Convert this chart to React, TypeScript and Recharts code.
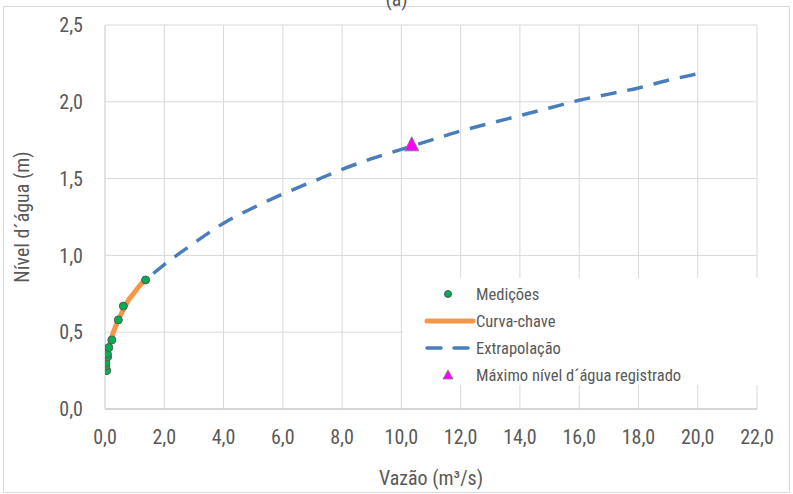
import React from 'react';
import {
    ComposedChart,
    Line,
    Scatter,
    XAxis,
    YAxis,
    CartesianGrid,
    Legend,
    Label
} from 'recharts';

// measured points (discharge m3/s, stage m)
const medicoesQ = [0.06, 0.03, 0.03, 0.09, 0.08, 0.13, 0.23, 0.45, 0.62, 1.37];
const medicoesH = [0.25, 0.28, 0.30, 0.34, 0.36, 0.40, 0.45, 0.58, 0.67, 0.84];

// rating curve within the measured range
const curvaQ = [0.01, 0.05, 0.1, 0.2, 0.4, 0.6, 0.8, 1.0, 1.2, 1.37];
const curvaH = [0.26, 0.33, 0.38, 0.45, 0.56, 0.64, 0.71, 0.76, 0.81, 0.84];

// extrapolated part of the curve
const extrapQ = [1.37, 2, 3, 4, 5, 6, 7, 8, 9, 10, 11, 12, 13, 14, 15, 16, 17, 18, 19, 20.2];
const extrapH = [0.84, 0.94, 1.08, 1.21, 1.31, 1.40, 1.48, 1.56, 1.63, 1.69, 1.75, 1.81, 1.86, 1.91, 1.96, 2.01, 2.05, 2.09, 2.14, 2.19];

// highest recorded stage
const maximoQ = [10.35];
const maximoH = [1.72];

const xTicks = [0, 2, 4, 6, 8, 10, 12, 14, 16, 18, 20, 22];
const yTicks = [0, 0.5, 1, 1.5, 2, 2.5];

const toRows = (qs: number[], hs: number[]) => qs.map((q, i) => ({ q, h: hs[i] }));

const medicoes = toRows(medicoesQ, medicoesH);
const curva = toRows(curvaQ, curvaH);
const extrap = toRows(extrapQ, extrapH);
const maximo = toRows(maximoQ, maximoH);

const FONT = '"Liberation Sans Narrow", "Roboto Condensed", Roboto, sans-serif';
const TEXT = '#595959';
const GRID = '#d9d9d9';

const fmt = (v: number) => v.toFixed(1).replace('.', ',');

const Triangle = (props: any) => {
    const { cx, cy } = props;
    const s = 7;
    return (
        <polygon
            points={`${cx},${cy - s - 1} ${cx - s},${cy + s - 1} ${cx + s},${cy + s - 1}`}
            fill="#ff00ff"
            stroke="#7f7f7f"
            strokeWidth={1}
        />
    );
};

const Dot = (props: any) => {
    const { cx, cy } = props;
    return <circle cx={cx} cy={cy} r={4} fill="#00b050" stroke="#595959" strokeWidth={1} />;
};

const legendItems = [
    { name: 'Medições', kind: 'dot' },
    { name: 'Curva-chave', kind: 'line' },
    { name: 'Extrapolação', kind: 'dash' },
    { name: 'Máximo nível d´água registrado', kind: 'tri' },
];

const renderLegend = () => (
    <div style={{ background: '#fff', width: 355, height: 107, fontFamily: FONT, color: TEXT, fontSize: 16 }}>
        <svg width={355} height={107} style={{ display: 'block' }}>
            {legendItems.map((it, i) => {
                const y = 16 + i * 27;
                return (
                    <g key={it.name}>
                        {it.kind === 'dot' && <circle cx={45} cy={y} r={3.5} fill="#00b050" stroke="#595959" strokeWidth={1} />}
                        {it.kind === 'line' && <line x1={24} x2={70} y1={y} y2={y} stroke="#f79646" strokeWidth={5} strokeLinecap="round" />}
                        {it.kind === 'dash' && <line x1={24} x2={67} y1={y} y2={y} stroke="#4a7ebb" strokeWidth={3.5} strokeDasharray="14 13" strokeLinecap="round" />}
                        {it.kind === 'tri' && <polygon points={`45,${y - 5} 40,${y + 4} 50,${y + 4}`} fill="#ff00ff" stroke="#7f7f7f" strokeWidth={0.8} />}
                        <text x={73} y={y} dy="0.35em" fill={TEXT} fontSize={16.5} fontFamily={FONT}>{it.name}</text>
                    </g>
                );
            })}
        </svg>
    </div>
);

export default function App() {
    return (
        <div style={{ position: 'relative', width: 793, height: 494, background: '#fff', overflow: 'hidden' }}>
            <style>{'body{margin:0}'}</style>
            <div style={{ position: 'absolute', left: 3, top: 6, width: 785, height: 485, border: '1px solid #d9d9d9' }} />
            <div style={{ position: 'absolute', left: 0, top: -13, width: 793, textAlign: 'center', fontFamily: FONT, fontSize: 20, color: TEXT }}>(a)</div>
            <ComposedChart
                width={793}
                height={494}
                margin={{ top: 25, right: 36, left: 0, bottom: 0 }}
                style={{ position: 'absolute', left: 0, top: 0, fontFamily: FONT }}
            >
                <CartesianGrid stroke={GRID} strokeWidth={1} />
                <XAxis
                    dataKey="q"
                    type="number"
                    domain={[0, 22]}
                    ticks={xTicks}
                    tickFormatter={fmt}
                    stroke="#bfbfbf"
                    tickLine={false}
                    tickSize={0}
                    tickMargin={21}
                    height={85}
                    tick={{ fill: TEXT, fontSize: 20 }}
                    allowDataOverflow
                >
                    <Label value="Vazão (m³/s)" position="insideBottom" offset={9} fill={TEXT} fontSize={20} />
                </XAxis>
                <YAxis
                    dataKey="h"
                    type="number"
                    domain={[0, 2.5]}
                    ticks={yTicks}
                    tickFormatter={fmt}
                    stroke={GRID}
                    tickLine={false}
                    tickSize={0}
                    tickMargin={22}
                    width={105}
                    tick={{ fill: TEXT, fontSize: 20 }}
                >
                    <Label value="Nível d´água (m)" position="insideLeft" angle={-90} offset={22} fill={TEXT} fontSize={20} style={{ textAnchor: 'middle' }} />
                </YAxis>
                <Legend layout="vertical" align="center" verticalAlign="middle" content={renderLegend}
                    wrapperStyle={{ left: 403, top: 278, width: 355, height: 107 }} />
                <Line data={curva} dataKey="h" type="monotone" stroke="#f79646" strokeWidth={5} dot={false} isAnimationActive={false} />
                <Line data={extrap} dataKey="h" type="monotone" stroke="#4a7ebb" strokeWidth={3.5} strokeDasharray="16 11" strokeDashoffset={-10} dot={false} isAnimationActive={false} />
                <Scatter data={medicoes} dataKey="h" shape={<Dot />} isAnimationActive={false} />
                <Scatter data={maximo} dataKey="h" shape={<Triangle />} isAnimationActive={false} />
            </ComposedChart>
        </div>
    );
}
